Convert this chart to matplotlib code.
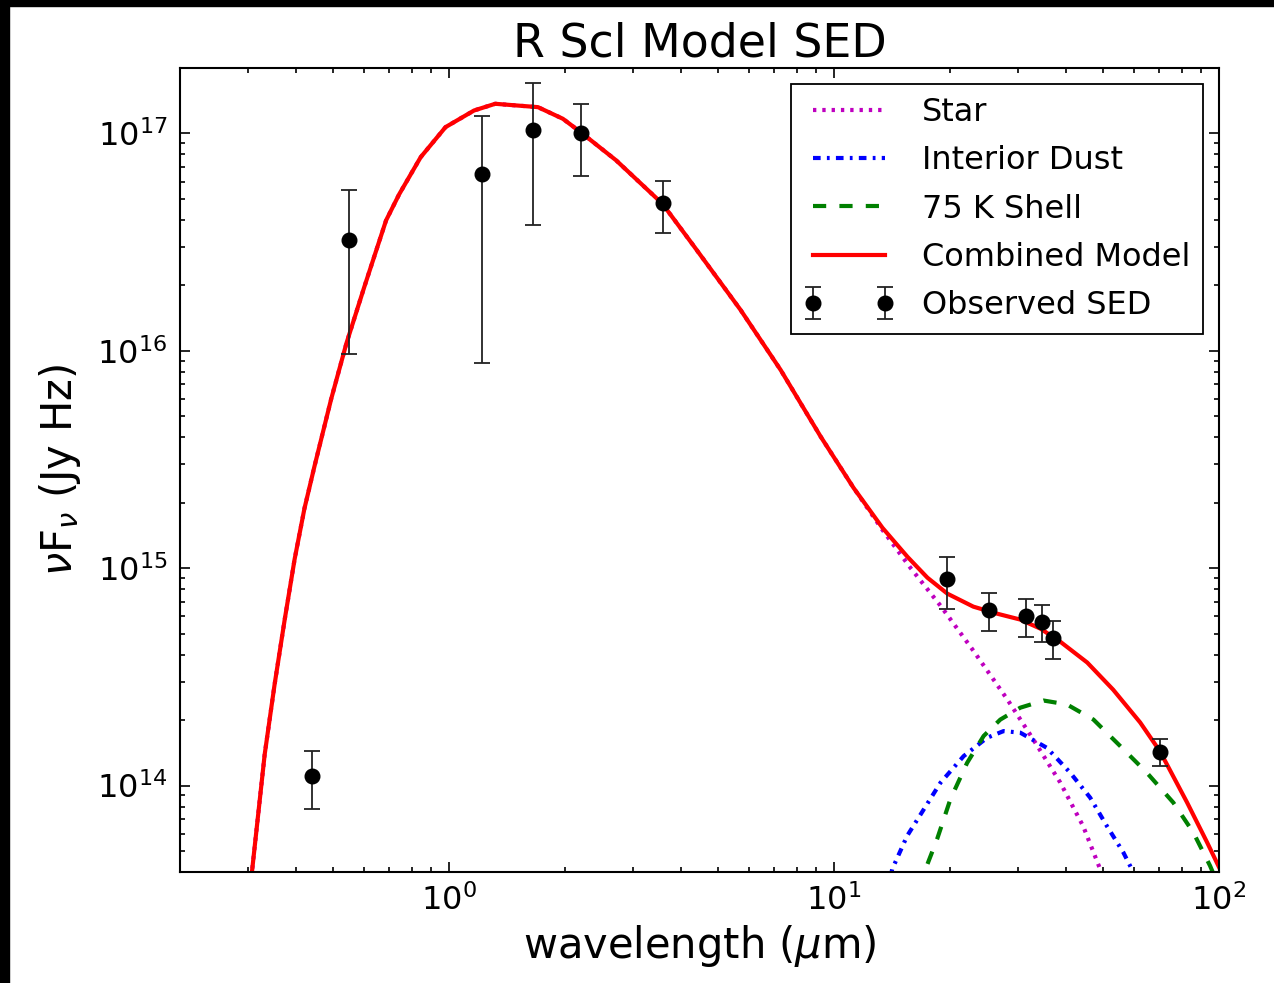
import matplotlib
matplotlib.use("Agg")
import matplotlib.pyplot as plt
from matplotlib.patches import Rectangle

plt.rcParams['font.family'] = ['DejaVu Sans']
plt.rcParams['mathtext.fontset'] = 'dejavusans'
plt.rcParams['lines.scale_dashes'] = False

# Observed SED
obs_wl = [0.44, 0.55, 1.22, 1.65, 2.2, 3.6, 19.7, 25.2, 31.6, 34.7, 37.1, 70.3]
obs_flux = [1.11e14, 3.22e16, 6.48e16, 1.04e17, 1.0e17, 4.77e16,
            8.9e14, 6.41e14, 6.03e14, 5.65e14, 4.77e14, 1.43e14]
obs_err = [3.3e13, 2.25e16, 5.6e16, 6.6e16, 3.6e16, 1.3e16,
           2.4e14, 1.27e14, 1.2e14, 1.1e14, 9.5e13, 2.0e13]

# Star model
star_wl = [0.29, 0.3077, 0.3319, 0.352, 0.374, 0.397, 0.421, 0.447, 0.494, 0.541,
           0.602, 0.686, 0.742, 0.844, 0.979, 1.161, 1.318, 1.702, 1.975, 2.196,
           2.716, 3.582, 4.336, 5.72, 7.27, 9.23, 11.24, 13.36, 15.79, 18.90,
           23.01, 28.19, 32.92, 38.68, 44.39, 49.13, 52.2]
star_flux = [1.9e13, 4.03e13, 1.39e14, 2.90e14, 5.78e14, 1.10e15, 1.88e15, 2.94e15,
             6.00e15, 1.08e16, 1.962e16, 3.98e16, 5.25e16, 7.78e16, 1.069e17, 1.275e17,
             1.369e17, 1.321e17, 1.168e17, 1.014e17, 7.52e16, 4.75e16, 3.01e16,
             1.54e16, 8.15e15, 4.03e15, 2.34e15, 1.50e15, 1.004e15, 6.72e14,
             4.17e14, 2.49e14, 1.63e14, 1.033e14, 6.49e13, 4.12e13, 3.0e13]

# Interior dust model
dust_wl = [13.6, 14.16, 15.48, 17.10, 18.90, 21.71, 24.97, 27.57, 30.46, 35.73,
           41.07, 46.28, 51.14, 56.47, 59.36, 62.4]
dust_flux = [3.0e13, 4.12e13, 5.86e13, 7.76e13, 1.03e14, 1.365e14, 1.658e14, 1.78e14,
             1.75e14, 1.49e14, 1.145e14, 8.79e13, 6.51e13, 4.91e13, 4.12e13, 3.16e13]

# 75 K shell model
shell_wl = [16.77, 17.28, 18.52, 20.05, 22.16, 24.47, 27.03, 30.46, 35.02, 40.27,
            47.2, 55.36, 64.95, 76.1, 85.8, 94.8, 100.6]
shell_flux = [3.33e13, 4.12e13, 5.66e13, 8.63e13, 1.27e14, 1.69e14, 2.01e14, 2.28e14,
              2.46e14, 2.36e14, 2.01e14, 1.52e14, 1.145e14, 8.34e13, 6.07e13, 4.27e13,
              3.33e13]

# Combined model
comb_wl = [0.29, 0.3077, 0.3319, 0.352, 0.374, 0.397, 0.421, 0.447, 0.494, 0.541,
           0.602, 0.686, 0.742, 0.844, 0.979, 1.161, 1.318, 1.702, 1.975, 2.196,
           2.716, 3.582, 4.336, 5.72, 7.27, 9.23, 11.24, 13.36, 15.51, 17.48, 19.70,
           23.01, 26.56, 30.46, 34.35, 38.68, 45.46, 53.09, 62.4, 70.3, 82.6, 93.1,
           100.6]
comb_flux = [1.9e13, 4.03e13, 1.39e14, 2.90e14, 5.78e14, 1.10e15, 1.88e15, 2.94e15,
             6.00e15, 1.08e16, 1.962e16, 3.98e16, 5.25e16, 7.78e16, 1.069e17, 1.275e17,
             1.369e17, 1.321e17, 1.168e17, 1.014e17, 7.52e16, 4.75e16, 3.01e16,
             1.54e16, 8.15e15, 4.03e15, 2.34e15, 1.533e15, 1.128e15, 9.04e14, 7.63e14,
             6.65e14, 6.17e14, 5.80e14, 5.27e14, 4.59e14, 3.68e14, 2.76e14, 1.95e14,
             1.434e14, 8.36e13, 5.48e13, 4.12e13]

fig = plt.figure(figsize=(12.74, 9.83), dpi=100)
# black frame strips present in the reference image
fig.patches.append(Rectangle((0, 0), 9 / 1274, 1, transform=fig.transFigure,
                             color='black', zorder=0))
fig.patches.append(Rectangle((0, 1 - 6 / 983), 1, 6 / 983, transform=fig.transFigure,
                             color='black', zorder=0))

ax = fig.add_axes([180 / 1274, 1 - 872 / 983, (1219 - 180) / 1274, (872 - 68) / 983])

ax.plot(star_wl, star_flux, color='m', lw=3.0, dashes=(2.4, 4.3), label='Star',
        dash_capstyle='butt')
ax.plot(dust_wl, dust_flux, color='b', lw=3.0, dashes=(5.5, 4.5, 2, 4.5),
        label='Interior Dust', dash_capstyle='butt')
ax.plot(shell_wl, shell_flux, color='g', lw=3.0, dashes=(9.5, 9.5), label='75 K Shell',
        dash_capstyle='butt')
ax.plot(comb_wl, comb_flux, color='r', lw=3.0, label='Combined Model')
ax.errorbar(obs_wl, obs_flux, yerr=obs_err, fmt='o', color='k', ecolor='#222222',
            elinewidth=1.3, capsize=5.5, capthick=1.3, markersize=10.5,
            label='Observed SED', zorder=5)

ax.set_xscale('log')
ax.set_yscale('log')
ax.set_xlim(0.2, 100)
ax.set_ylim(4e13, 2e17)

ax.set_title('R Scl Model SED', fontsize=33, pad=8)
ax.set_xlabel(r'wavelength ($\mu$m)', fontsize=30, labelpad=4)
ax.set_ylabel(r'$\nu$F$_\nu$ (Jy Hz)', fontsize=30, labelpad=10)

ax.tick_params(which='both', direction='in', top=True, right=True, width=1.2)
ax.tick_params(which='major', length=7, labelsize=23, pad=9)
ax.tick_params(which='minor', length=3.5)
for s in ax.spines.values():
    s.set_linewidth(1.5)

leg = ax.legend(loc='upper right', fontsize=23, numpoints=2, fancybox=False,
                framealpha=1, edgecolor='black', handlelength=2.85,
                handletextpad=0.85, labelspacing=0.545, borderpad=0.4,
                borderaxespad=0.5)
leg.get_frame().set_linewidth(1.3)

fig.savefig('out.png', dpi=100)
